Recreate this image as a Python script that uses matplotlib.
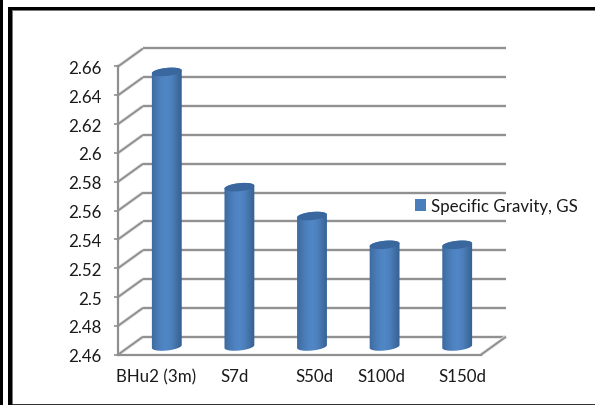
import numpy as np
import matplotlib
matplotlib.use("Agg")
import matplotlib.pyplot as plt
from matplotlib.patches import Polygon, Rectangle, Patch
from matplotlib.colors import LinearSegmentedColormap
import matplotlib.patheffects as pe

categories = ["BHu2 (3m)", "S7d", "S50d", "S100d", "S150d"]
gravity = [2.65, 2.57, 2.55, 2.53, 2.53]
y_ticks = [2.46, 2.48, 2.5, 2.52, 2.54, 2.56, 2.58, 2.6, 2.62, 2.64, 2.66]
y_tick_labels = ["2.46", "2.48", "2.5", "2.52", "2.54", "2.56", "2.58", "2.6", "2.62", "2.64", "2.66"]
series_name = "Specific Gravity, GS"

W, H = 595, 406
LEFT, RIGHT = 118, 481
TOP, BOTTOM = 67.5, 355.7
DEPTH_X, DEPTH_Y = 25, 18
GRID = "#8f8f8f"
TEXT = "#1a1a1a"

plt.rcParams["font.family"] = ["Lato", "DejaVu Sans"]

fig = plt.figure(figsize=(W / 100, H / 100), dpi=100)
ax = fig.add_axes([LEFT / W, 1 - BOTTOM / H, (RIGHT - LEFT) / W, (BOTTOM - TOP) / H])
ax.patch.set_visible(False)
ax.set_xlim(-0.5, 4.5)
ax.set_ylim(2.46, 2.66)

# data units per pixel, used for the fake 3d depth
ux = 5 / (RIGHT - LEFT)
uy = 0.2 / (BOTTOM - TOP)
halo = [pe.withStroke(linewidth=2.6, foreground="#e6e6e6")]


def line(xs, ys, z=1, lw=1.4):
    ax.plot(xs, ys, color=GRID, lw=lw, zorder=z, clip_on=False,
            solid_capstyle="butt", path_effects=halo)


# back wall lines and the slanted side wall lines
for t in y_ticks:
    back_x = -0.5 + DEPTH_X * ux
    back_y = t + DEPTH_Y * uy
    line([-0.5, back_x], [t, back_y])
    line([back_x, 4.5 + DEPTH_X * ux], [back_y, back_y])
line([4.5, 4.5 + DEPTH_X * ux], [2.46, 2.46 + DEPTH_Y * uy])

for side in ["top", "right"]:
    ax.spines[side].set_visible(False)
for side in ["left", "bottom"]:
    ax.spines[side].set_color(GRID)
    ax.spines[side].set_linewidth(1.6)

# cylinders: shaded body clipped to its outline, darker cap on top
shade = LinearSegmentedColormap.from_list(
    "cyl", ["#3d6a9f", "#4677b0", "#4e82c0", "#5087c6", "#4d80bd", "#4270a6", "#345f91"])
gradient = np.linspace(0, 1, 64).reshape(1, -1)
half_w, half_h, tilt = 15, 4.0, np.radians(6)
t_top = np.linspace(0, np.pi, 40)
t_bot = np.linspace(np.pi, 2 * np.pi, 40)


def arc(cx, cy, t):
    px = half_w * np.cos(t)
    py = half_h * np.sin(t)
    rx = px * np.cos(tilt) - py * np.sin(tilt)
    ry = px * np.sin(tilt) + py * np.cos(tilt)
    return np.column_stack([cx + rx * ux, cy + ry * uy])


for i, value in enumerate(gravity):
    cx = i + DEPTH_X / 2 * ux
    base = 2.46 + (DEPTH_Y / 2 - 0.8) * uy
    top = value + DEPTH_Y / 2 * uy
    upper = arc(cx, top, t_top)
    lower = arc(cx, base, t_bot)
    outline = np.vstack([upper, lower])
    body = Polygon(outline, closed=True, transform=ax.transData, fc="none", ec="none")
    ax.add_patch(body)
    img = ax.imshow(gradient, cmap=shade, aspect="auto", zorder=3, interpolation="bilinear",
                    extent=[cx - 15.5 * ux, cx + 15.5 * ux, base - 6 * uy, top + 6 * uy])
    img.set_clip_path(body)
    cap = Polygon(np.vstack([upper, arc(cx, top, t_bot)]), closed=True,
                  fc="#3a679d", ec="none", zorder=4, clip_on=False)
    ax.add_patch(cap)

ax.set_xlim(-0.5, 4.5)
ax.set_ylim(2.46, 2.66)

ax.set_yticks(y_ticks)
ax.set_yticklabels(y_tick_labels)
ax.tick_params(axis="y", length=3, width=1.2, color=GRID, pad=9, labelsize=12.2, labelcolor=TEXT)

# label anchors sit slightly off the category centres
ax.set_xticks([0.02, 1.11, 2.2, 3.13, 4.24])
ax.set_xticklabels(categories)
ax.tick_params(axis="x", length=0, pad=9.5, labelsize=12.2, labelcolor=TEXT)

handle = Patch(fc="#4a7ebb", ec="none")
fig.legend([handle], [series_name], loc="center left", bbox_to_anchor=(415 / W, 1 - 207 / H),
           frameon=False, fontsize=12.2, labelcolor=TEXT, handlelength=0.65, handleheight=0.65,
           handletextpad=0.3, borderpad=0, borderaxespad=0)

# page border left around the chart
frame = [
    (0, 0, 2.5, H, "#000000"),
    (7.5, 8, 4.5, H - 8, "#000000"),
    (12, 10.5, 1.2, H - 10.5, "#777777"),
    (7.5, 8, W - 7.5, 2.5, "#000000"),
    (12, 10.5, W - 12, 1, "#777777"),
    (12, 404.5, W - 12, 1.5, "#333333"),
]
for x, y, w, h, c in frame:
    fig.add_artist(Rectangle((x / W, 1 - (y + h) / H), w / W, h / H,
                             transform=fig.transFigure, fc=c, ec="none"))

fig.savefig("out.png", dpi=100)
